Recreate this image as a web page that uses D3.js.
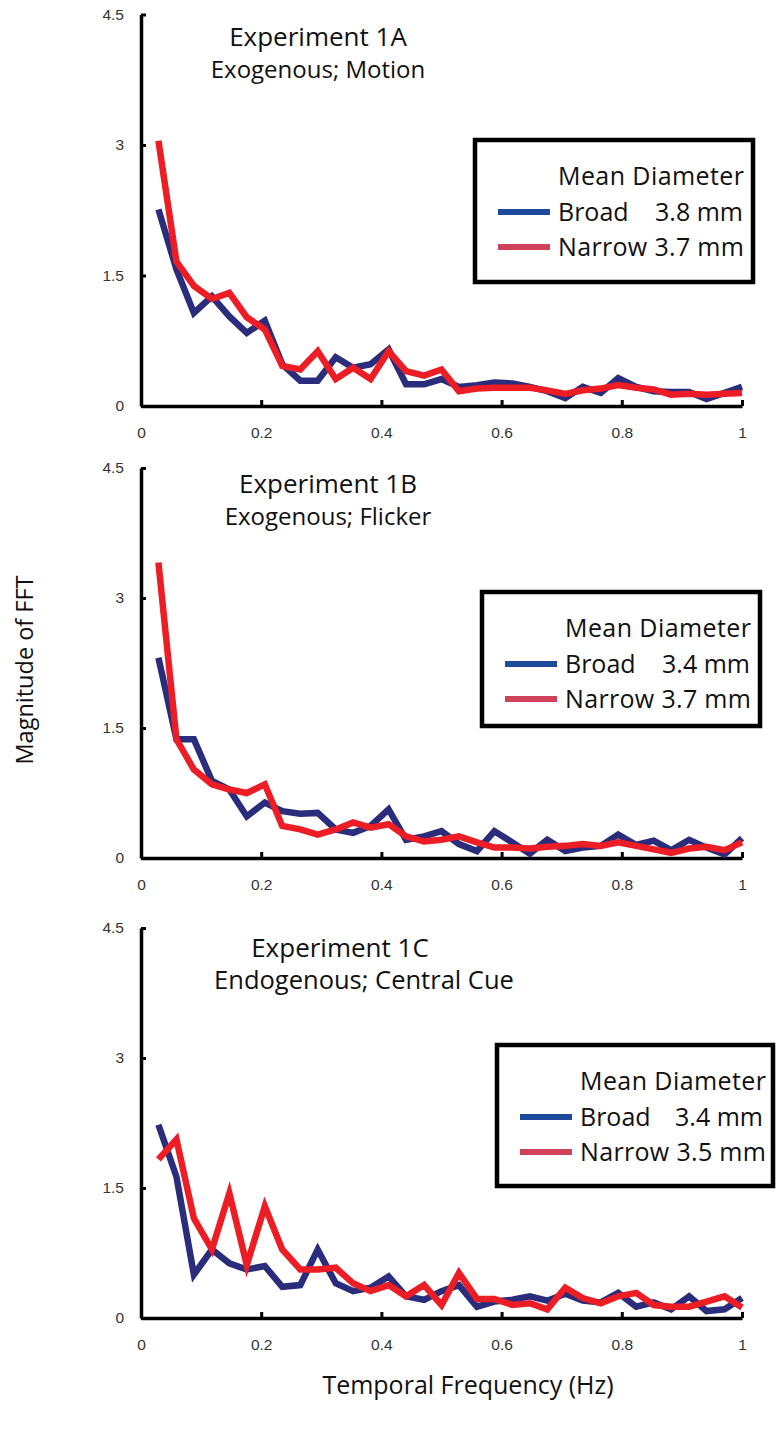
<!DOCTYPE html>
<html>
<head>
<meta charset="utf-8">
<script src="https://cdn.jsdelivr.net/npm/d3@7/dist/d3.min.js"></script>
<style>
  html, body { margin: 0; padding: 0; background: #fff; }
  svg { display: block; }
  .lbl { font-family: "Open Sans", "Noto Sans", sans-serif; fill: #111; }
  .tick text { font-family: "Liberation Sans", Arial, sans-serif; fill: #333; }
</style>
</head>
<body>
<svg id="chart" width="780" height="1435"></svg>
<script>
// Temporal frequencies of the FFT bins (Hz)
const freqHz = [0.029, 0.059, 0.088, 0.118, 0.147, 0.176, 0.206, 0.235, 0.265, 0.294,
                0.324, 0.353, 0.382, 0.412, 0.441, 0.471, 0.500, 0.529, 0.559, 0.588,
                0.618, 0.647, 0.676, 0.706, 0.735, 0.765, 0.794, 0.824, 0.853, 0.882,
                0.912, 0.941, 0.971, 1.000];

// Experiment 1A — exogenous, motion
const exp1ABroad  = [2.26, 1.57, 1.07, 1.26, 1.03, 0.84, 0.98, 0.48, 0.29, 0.29,
                     0.56, 0.44, 0.48, 0.65, 0.25, 0.25, 0.31, 0.22, 0.24, 0.27,
                     0.26, 0.22, 0.17, 0.09, 0.22, 0.15, 0.32, 0.22, 0.17, 0.16,
                     0.16, 0.08, 0.15, 0.22];
const exp1ANarrow = [3.05, 1.66, 1.38, 1.23, 1.30, 1.02, 0.88, 0.46, 0.42, 0.63,
                     0.31, 0.44, 0.31, 0.63, 0.40, 0.35, 0.42, 0.17, 0.20, 0.21,
                     0.21, 0.21, 0.18, 0.14, 0.18, 0.20, 0.24, 0.21, 0.19, 0.13,
                     0.14, 0.13, 0.14, 0.15];

// Experiment 1B — exogenous, flicker
const exp1BBroad  = [2.31, 1.37, 1.37, 0.89, 0.79, 0.48, 0.64, 0.54, 0.51, 0.52,
                     0.33, 0.29, 0.37, 0.56, 0.21, 0.25, 0.31, 0.16, 0.08, 0.31,
                     0.18, 0.05, 0.21, 0.08, 0.12, 0.14, 0.27, 0.15, 0.20, 0.09,
                     0.21, 0.12, 0.04, 0.23];
const exp1BNarrow = [3.41, 1.37, 1.02, 0.85, 0.79, 0.75, 0.85, 0.37, 0.33, 0.27,
                     0.33, 0.41, 0.35, 0.39, 0.25, 0.19, 0.21, 0.25, 0.18, 0.12,
                     0.12, 0.11, 0.13, 0.14, 0.16, 0.14, 0.18, 0.14, 0.10, 0.06,
                     0.11, 0.13, 0.09, 0.18];

// Experiment 1C — endogenous, central cue
const exp1CBroad  = [2.23, 1.63, 0.50, 0.79, 0.63, 0.56, 0.60, 0.36, 0.38, 0.79,
                     0.40, 0.31, 0.35, 0.48, 0.25, 0.21, 0.31, 0.38, 0.13, 0.19,
                     0.21, 0.25, 0.20, 0.28, 0.20, 0.18, 0.29, 0.13, 0.18, 0.10,
                     0.25, 0.08, 0.10, 0.23];
const exp1CNarrow = [1.83, 2.06, 1.15, 0.79, 1.44, 0.61, 1.29, 0.79, 0.56, 0.56,
                     0.58, 0.40, 0.31, 0.38, 0.25, 0.38, 0.15, 0.52, 0.22, 0.22,
                     0.15, 0.17, 0.10, 0.35, 0.23, 0.17, 0.25, 0.29, 0.15, 0.13,
                     0.13, 0.19, 0.25, 0.12];

const yTickValues = [0, 1.5, 3, 4.5];
const yTickLabels = ["0", "1.5", "3", "4.5"];
const xTickValues = [0, 0.2, 0.4, 0.6, 0.8, 1];
const xTickLabels = ["0", "0.2", "0.4", "0.6", "0.8", "1"];

const titleLines = [["Experiment 1A", "Exogenous; Motion"],
                    ["Experiment 1B", "Exogenous; Flicker"],
                    ["Experiment 1C", "Endogenous; Central Cue"]];
const legendHeading = "Mean Diameter";
const broadLabels  = [["Broad", "3.8 mm"], ["Broad", "3.4 mm"], ["Broad", "3.4 mm"]];
const narrowLabels = ["Narrow 3.7 mm", "Narrow 3.7 mm", "Narrow 3.5 mm"];

const yAxisTitle = "Magnitude of FFT";
const xAxisTitle = "Temporal Frequency (Hz)";

// ---- layout ----
const COL_BROAD = "#2a2c7c", COL_NARROW = "#ec1d25";
const LEG_BROAD = "#1d4a9a", LEG_NARROW = "#cf4259";

// title lines: [centre x, baseline y, font size]
const panels = [
  { broad: exp1ABroad, narrow: exp1ANarrow, y0: 406, y1: 14.5,
    title: [[318, 46, 26], [318, 77.5, 24]],
    legend: { x: 473, y: 138, w: 282, h: 146 } },
  { broad: exp1BBroad, narrow: exp1BNarrow, y0: 858, y1: 468,
    title: [[328, 493, 26], [328, 524.5, 24]],
    legend: { x: 480, y: 590, w: 282, h: 138 } },
  { broad: exp1CBroad, narrow: exp1CNarrow, y0: 1318, y1: 928,
    title: [[340, 957, 26], [364, 989, 25.5]],
    legend: { x: 495, y: 1043, w: 280, h: 145 } }
];

const svg = d3.select("#chart");
const x = d3.scaleLinear().domain([0, 1]).range([141, 742]);

panels.forEach((p, i) => {
  const y = d3.scaleLinear().domain([0, 4.5]).range([p.y0, p.y1]);
  const g = svg.append("g");

  // axes
  const yAxis = d3.axisLeft(y).tickValues(yTickValues)
    .tickFormat((d, j) => yTickLabels[j]).tickSizeInner(-5).tickSizeOuter(0).tickPadding(17);
  const xAxis = d3.axisBottom(x).tickValues(xTickValues)
    .tickFormat((d, j) => xTickLabels[j]).tickSizeInner(-6).tickSizeOuter(0).tickPadding(21);

  const ya = g.append("g").attr("transform", `translate(${x(0)},0)`).call(yAxis);
  const xa = g.append("g").attr("transform", `translate(0,${y(0)})`).call(xAxis);
  [ya, xa].forEach(a => {
    a.select(".domain").attr("stroke", "#000").attr("stroke-width", 3.5);
    a.selectAll(".tick line").attr("stroke", "#000").attr("stroke-width", 3);
    a.selectAll(".tick text").attr("font-size", 15.5);
  });

  // data lines
  const line = d3.line().x((d, j) => x(freqHz[j])).y(d => y(d));
  [[p.broad, COL_BROAD], [p.narrow, COL_NARROW]].forEach(([vals, col]) => {
    g.append("path").datum(vals).attr("d", line)
      .attr("fill", "none").attr("stroke", col).attr("stroke-width", 6.5)
      .attr("stroke-linejoin", "miter").attr("stroke-miterlimit", 4);
  });

  // two-line panel title
  const tt = g.append("text").attr("class", "lbl").attr("text-anchor", "middle");
  titleLines[i].forEach((t, k) => {
    const [cx, by, fs] = p.title[k];
    tt.append("tspan").attr("x", cx).attr("y", by).attr("font-size", fs).text(t);
  });

  // legend
  const L = p.legend;
  const lg = g.append("g").attr("transform", `translate(${L.x},${L.y})`);
  lg.append("rect").attr("x", 2).attr("y", 2).attr("width", L.w - 4).attr("height", L.h - 4)
    .attr("fill", "#fff").attr("stroke", "#000").attr("stroke-width", 4.5);
  const tx = 85, right = L.w - 12;
  const lt = lg.append("text").attr("class", "lbl").attr("font-size", 25);
  lt.append("tspan").attr("x", tx).attr("y", 47).attr("textLength", 186).text(legendHeading);
  lt.append("tspan").attr("x", tx).attr("y", 83).text(broadLabels[i][0]);
  lt.append("tspan").attr("x", right).attr("y", 83).attr("text-anchor", "end").text(broadLabels[i][1]);
  lt.append("tspan").attr("x", tx).attr("y", 118).attr("textLength", 186).text(narrowLabels[i]);
  lg.append("line").attr("x1", 25).attr("x2", 77).attr("y1", 74).attr("y2", 74)
    .attr("stroke", LEG_BROAD).attr("stroke-width", 6);
  lg.append("line").attr("x1", 25).attr("x2", 77).attr("y1", 109).attr("y2", 109)
    .attr("stroke", LEG_NARROW).attr("stroke-width", 6);
});

// shared axis titles
svg.append("text").attr("class", "lbl")
  .attr("transform", "translate(33,670) rotate(-90)")
  .attr("text-anchor", "middle").attr("font-size", 23.5).text(yAxisTitle);
svg.append("text").attr("class", "lbl")
  .attr("x", 468).attr("y", 1394)
  .attr("text-anchor", "middle").attr("font-size", 25).text(xAxisTitle);
</script>
</body>
</html>
